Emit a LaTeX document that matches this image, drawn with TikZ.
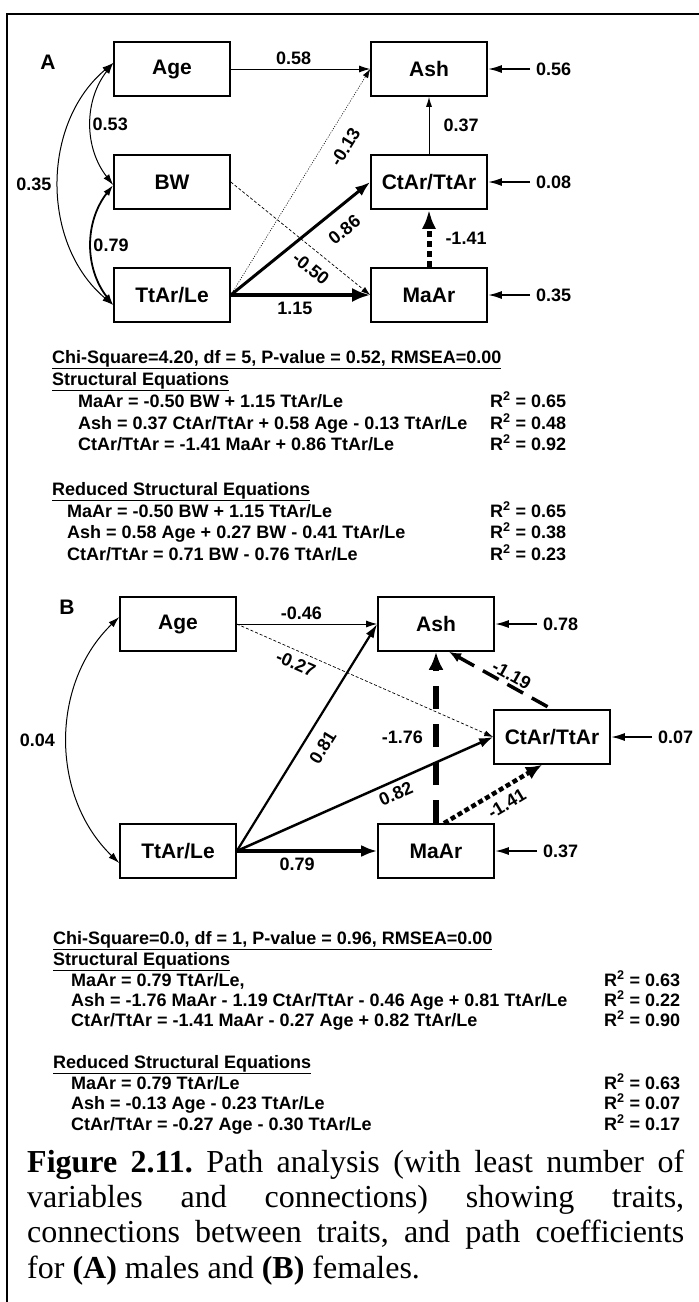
\documentclass[tikz,border=0pt]{standalone}
\usepackage{fontspec}
\setmainfont{Liberation Serif}
\setsansfont{Liberation Sans}
\usetikzlibrary{arrows.meta}
\newcommand{\boxtxt}{\fontsize{21}{24}\selectfont\sffamily\bfseries}
\newcommand{\numtxt}{\fontsize{18}{21}\selectfont\sffamily\bfseries}
\newcommand{\captxt}{\fontsize{32}{35}\selectfont\rmfamily\frenchspacing}
\begin{document}
\begin{tikzpicture}[x=1pt, y=-1pt, >={Latex[length=11pt,width=7pt]},
  var/.style={draw, line width=1.6pt, minimum width=116pt, minimum height=54pt, inner sep=0pt, font=\boxtxt},
  coef/.style={font=\numtxt, inner sep=1pt},
  resid/.style={font=\numtxt, inner ysep=1pt, inner xsep=6pt, anchor=west},
  res/.style={->, line width=2pt, >={Latex[length=14pt,width=8pt]}},
  eq/.style={font=\numtxt, inner sep=0pt, anchor=base west},
  capline/.style={font=\captxt, inner sep=0pt, anchor=base west}]
\useasboundingbox (0,0) rectangle (699,1302);
% frame
\draw[line width=2pt] (710,14) -- (7,14) -- (7,1310);
% Panel A: males
\node[font=\boxtxt] (labA) at (48,62) {A};
\node[var] (aAge) at (172,69) {Age};
\node[var] (aBW) at (172,182) {BW};
\node[var] (aTtLe) at (172,295) {TtAr/Le};
\node[var] (aAsh) at (429,69) {Ash};
\node[var] (aCtTt) at (429,182) {CtAr/TtAr};
\node[var] (aMaAr) at (429,295) {MaAr};
\draw[<->, line width=1pt] ([yshift=6pt]aAge.west) to[bend right=38]
  node[coef, right] (r53) {0.53} ([yshift=-3pt]aBW.west);
\draw[<->, line width=1.8pt] ([yshift=-3pt]aBW.west) to[bend right=38]
  node[coef, right] (r79) {0.79} ([yshift=-10pt]aTtLe.west);
\draw[<->, line width=1pt] ([yshift=6pt]aAge.west) to[bend right=50]
  node[coef, left=6pt] (r35) {0.35} ([yshift=-10pt]aTtLe.west);
\draw[->, line width=1pt] (aAge) -- node[coef, above=3pt, pos=0.45] (p58) {0.58} (aAsh);
\draw[->, line width=0.6pt, dash pattern=on 1pt off 1.5pt, >={Latex[length=9pt,width=6pt]}]
  (aTtLe.east) -- (aAsh.west) node[coef, sloped, pos=0.7, below=12pt] (p13) {-0.13};
\draw[->, line width=0.7pt, dash pattern=on 3pt off 2pt, >={Latex[length=9pt,width=6pt]}]
  (aBW.east) -- (aMaAr.west) node[coef, sloped, pos=0.65, below=9pt] (p50) {-0.50};
\draw[->, line width=3pt, >={Latex[length=15pt,width=11pt]}]
  (aTtLe.east) -- (aCtTt.west) node[coef, sloped, pos=0.72, below=12pt] (p86) {0.86};
\draw[->, line width=4pt, >={Latex[length=18pt,width=14pt]}]
  (aTtLe) -- node[coef, below=4pt, pos=0.46] (p115) {1.15} (aMaAr);
\draw[->, line width=1pt, >={Latex[length=10pt,width=6pt]}]
  (aCtTt) -- node[coef, right=13pt] (p37) {0.37} (aAsh);
\draw[->, line width=5pt, dash pattern=on 6pt off 4pt, >={Latex[length=19pt,width=14pt]}]
  (aMaAr) -- node[coef, right=13pt] (p141) {-1.41} (aCtTt);
% residuals A
\node[resid] (eAsh) at (530,69) {0.56};
\node[resid] (eCtTt) at (530,182) {0.08};
\node[resid] (eMaAr) at (530,295) {0.35};
\draw[res] (eAsh) -- (aAsh);
\draw[res] (eCtTt) -- (aCtTt);
\draw[res] (eMaAr) -- (aMaAr);
% equations A
\node[eq] (chiA) at (52,363) {\underline{Chi-Square=4.20, df = 5, P-value = 0.52, RMSEA=0.00}};
\node[eq] (seA) at (52,385) {\underline{Structural Equations}};
\node[eq] (seA1) at (78,407) {MaAr = -0.50 BW + 1.15 TtAr/Le};
\node[eq] (seA2) at (78,429) {Ash = 0.37 CtAr/TtAr + 0.58 Age - 0.13 TtAr/Le};
\node[eq] (seA3) at (78,450) {CtAr/TtAr = -1.41 MaAr + 0.86 TtAr/Le};
\node[eq] (rsA1) at (490,407) {R\textsuperscript{2} = 0.65};
\node[eq] (rsA2) at (490,429) {R\textsuperscript{2} = 0.48};
\node[eq] (rsA3) at (490,450) {R\textsuperscript{2} = 0.92};
\node[eq] (reA) at (52,495) {\underline{Reduced Structural Equations}};
\node[eq] (reA1) at (67,517) {MaAr = -0.50 BW + 1.15 TtAr/Le};
\node[eq] (reA2) at (67,538) {Ash = 0.58 Age + 0.27 BW - 0.41 TtAr/Le};
\node[eq] (reA3) at (67,560) {CtAr/TtAr = 0.71 BW - 0.76 TtAr/Le};
\node[eq] (rrA1) at (490,517) {R\textsuperscript{2} = 0.65};
\node[eq] (rrA2) at (490,538) {R\textsuperscript{2} = 0.38};
\node[eq] (rrA3) at (490,560) {R\textsuperscript{2} = 0.23};
% Panel B: females
\node[font=\boxtxt] (labB) at (67,607) {B};
\node[var] (bAge) at (178,624) {Age};
\node[var] (bTtLe) at (178,851) {TtAr/Le};
\node[var] (bAsh) at (436,624) {Ash};
\node[var] (bCtTt) at (552,737) {CtAr/TtAr};
\node[var] (bMaAr) at (436,851) {MaAr};
\draw[<->, line width=1pt] ([yshift=7pt]bAge.west) to[bend right=46]
  node[coef, left=11pt] (r04) {0.04} ([yshift=-12pt]bTtLe.west);
\draw[->, line width=1pt] (bAge) -- node[coef, above=3pt, pos=0.46] (q46) {-0.46} (bAsh);
\draw[->, line width=0.7pt, dash pattern=on 3pt off 2pt, >={Latex[length=9pt,width=6pt]}]
  (bAge.east) -- (bCtTt.west) node[coef, sloped, pos=0.25, below=5pt] (q27) {-0.27};
\draw[->, line width=2.2pt, >={Latex[length=14pt,width=9pt]}]
  (bTtLe.east) -- (bAsh.west) node[coef, sloped, pos=0.5, below=10pt] (q81) {0.81};
\draw[->, line width=2.5pt, >={Latex[length=14pt,width=10pt]}]
  (bTtLe.east) -- (bCtTt.west) node[coef, sloped, pos=0.6, below=4pt] (q82) {0.82};
\draw[->, line width=3.5pt, >={Latex[length=16pt,width=12pt]}]
  (bTtLe) -- node[coef, below=4pt, pos=0.43] (q79) {0.79} (bMaAr);
\draw[->, line width=6pt, dash pattern=on 23pt off 15pt, >={Latex[length=18pt,width=15pt]}]
  (bMaAr) -- node[coef, left=9pt] (q176) {-1.76} (bAsh);
\draw[<-, line width=3.5pt, dash pattern=on 18pt off 10pt, >={Latex[length=12pt,width=10pt]}]
  ([xshift=13pt]bAsh.south) -- (bCtTt.north) node[coef, sloped, pos=0.56, above=1pt] (q119) {-1.19};
\draw[->, line width=4.5pt, dash pattern=on 5pt off 3pt, >={Latex[length=16pt,width=14pt]}]
  ([xshift=8pt]bMaAr.north) -- ([xshift=-10pt]bCtTt.south) node[coef, sloped, pos=0.56, below=6pt] (q141) {-1.41};
% residuals B
\node[resid] (fAsh) at (537,624) {0.78};
\node[resid] (fCtTt) at (652,737) {0.07};
\node[resid] (fMaAr) at (537,851) {0.37};
\draw[res] (fAsh) -- (bAsh);
\draw[res] (fCtTt) -- (bCtTt);
\draw[res] (fMaAr) -- (bMaAr);
% equations B
\node[eq] (chiB) at (53,944) {\underline{Chi-Square=0.0, df = 1, P-value = 0.96, RMSEA=0.00}};
\node[eq] (seB) at (53,965) {\underline{Structural Equations}};
\node[eq] (seB1) at (71,986) {MaAr = 0.79 TtAr/Le,};
\node[eq] (seB2) at (71,1006) {Ash = -1.76 MaAr - 1.19 CtAr/TtAr - 0.46 Age + 0.81 TtAr/Le};
\node[eq] (seB3) at (71,1026) {CtAr/TtAr = -1.41 MaAr - 0.27 Age + 0.82 TtAr/Le};
\node[eq] (rsB1) at (604,986) {R\textsuperscript{2} = 0.63};
\node[eq] (rsB2) at (604,1006) {R\textsuperscript{2} = 0.22};
\node[eq] (rsB3) at (604,1026) {R\textsuperscript{2} = 0.90};
\node[eq] (reB) at (53,1068) {\underline{Reduced Structural Equations}};
\node[eq] (reB1) at (71,1089) {MaAr = 0.79 TtAr/Le};
\node[eq] (reB2) at (71,1109) {Ash = -0.13 Age - 0.23 TtAr/Le};
\node[eq] (reB3) at (71,1130) {CtAr/TtAr = -0.27 Age - 0.30 TtAr/Le};
\node[eq] (rrB1) at (604,1089) {R\textsuperscript{2} = 0.63};
\node[eq] (rrB2) at (604,1109) {R\textsuperscript{2} = 0.07};
\node[eq] (rrB3) at (604,1130) {R\textsuperscript{2} = 0.17};
% caption
\node[capline] (cap1) at (27,1172) {\makebox[657pt][s]{\textbf{Figure 2.11.} Path analysis (with least number of}};
\node[capline] (cap2) at (27,1207) {\makebox[657pt][s]{variables and connections) showing traits,}};
\node[capline] (cap3) at (27,1242) {\makebox[657pt][s]{connections between traits, and path coefficients}};
\node[capline] (cap4) at (27,1278) {for \textbf{(A)} males and \textbf{(B)} females.};
\end{tikzpicture}
\end{document}
